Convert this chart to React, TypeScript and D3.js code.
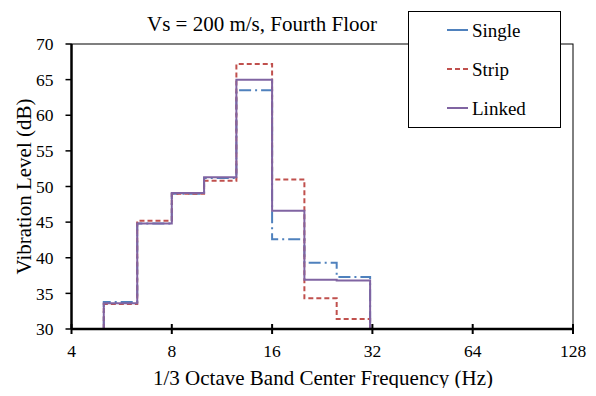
import React, { useEffect, useRef } from "react";
import * as d3 from "d3";

const bands = [5, 6.3, 8, 10, 12.5, 16, 20, 25, 31.5];
const single = [33.8, 44.8, 49.0, 51.2, 63.5, 42.6, 39.3, 37.3];
const strip = [33.5, 45.2, 49.0, 50.8, 67.2, 51.0, 34.3, 31.4];
const linked = [33.6, 44.8, 49.1, 51.3, 65.0, 46.6, 36.9, 36.8];
const xTicks = [4, 8, 16, 32, 64, 128];
const yTicks = [30, 35, 40, 45, 50, 55, 60, 65, 70];

const series = [
  { name: "Single", values: single, color: "#4F81BD", dash: "12,4,2,4" },
  { name: "Strip", values: strip, color: "#C0504D", dash: "5,3" },
  { name: "Linked", values: linked, color: "#8064A2", dash: "" },
];

const App = () => {
  const ref = useRef<SVGSVGElement>(null);

  useEffect(() => {
    const width = 596;
    const height = 396;
    const m = { left: 71.5, right: 23, top: 44, bottom: 67 };
    const font = "Liberation Serif";

    const svg = d3.select(ref.current);
    svg.selectAll("*").remove();

    const x = d3.scaleLog().base(2).domain([4, 128]).range([m.left, width - m.right]);
    const y = d3.scaleLinear().domain([30, 70]).range([height - m.bottom, m.top]);

    svg.append("rect").attr("width", width).attr("height", height).attr("fill", "white");

    // plot frame
    svg
      .append("rect")
      .attr("x", x(4))
      .attr("y", y(70))
      .attr("width", x(128) - x(4))
      .attr("height", y(30) - y(70))
      .attr("fill", "none")
      .attr("stroke", "black")
      .attr("stroke-width", 1);

    const line = d3
      .line<[number, number]>()
      .x((d) => x(d[0]))
      .y((d) => y(d[1]))
      .curve(d3.curveStepAfter);

    series.forEach((s) => {
      const pts: [number, number][] = [[bands[0], 30]];
      s.values.forEach((v, i) => pts.push([bands[i], v]));
      pts.push([bands[bands.length - 1], s.values[s.values.length - 1]]);
      // drop to bottom at last band
      const path = line(pts) + `V${y(30)}`;
      svg
        .append("path")
        .attr("d", path)
        .attr("fill", "none")
        .attr("stroke", s.color)
        .attr("stroke-width", 2)
        .attr("stroke-dasharray", s.dash || null);
    });

    // axes
    const xAxis = svg.append("g");
    xAxis
      .append("line")
      .attr("x1", x(4))
      .attr("x2", x(128))
      .attr("y1", y(30))
      .attr("y2", y(30))
      .attr("stroke", "black")
      .attr("stroke-width", 2.5);
    xTicks.forEach((t) => {
      xAxis
        .append("line")
        .attr("x1", x(t))
        .attr("x2", x(t))
        .attr("y1", y(30) - 5)
        .attr("y2", y(30) + 5)
        .attr("stroke", "black")
        .attr("stroke-width", 2);
      xAxis
        .append("text")
        .attr("x", x(t))
        .attr("y", 357)
        .attr("text-anchor", "middle")
        .attr("font-family", font)
        .attr("font-size", 17.5)
        .text(t);
    });

    const yAxis = svg.append("g");
    yAxis
      .append("line")
      .attr("x1", x(4))
      .attr("x2", x(4))
      .attr("y1", y(30))
      .attr("y2", y(70))
      .attr("stroke", "black")
      .attr("stroke-width", 2.5);
    yTicks.forEach((t) => {
      yAxis
        .append("line")
        .attr("x1", x(4) - 6)
        .attr("x2", x(4))
        .attr("y1", y(t))
        .attr("y2", y(t))
        .attr("stroke", "black")
        .attr("stroke-width", 1.5);
      yAxis
        .append("text")
        .attr("x", 53.5)
        .attr("y", y(t))
        .attr("dy", "0.35em")
        .attr("text-anchor", "end")
        .attr("font-family", font)
        .attr("font-size", 17.5)
        .text(t);
    });

    svg
      .append("text")
      .attr("x", 262)
      .attr("y", 31)
      .attr("text-anchor", "middle")
      .attr("font-family", font)
      .attr("font-size", 21)
      .text("Vs = 200 m/s, Fourth Floor");

    svg
      .append("text")
      .attr("x", 323)
      .attr("y", 385)
      .attr("text-anchor", "middle")
      .attr("font-family", font)
      .attr("font-size", 21)
      .text("1/3 Octave Band Center Frequency (Hz)");

    svg
      .append("text")
      .attr("transform", `translate(31,${(y(30) + y(70)) / 2}) rotate(-90)`)
      .attr("text-anchor", "middle")
      .attr("font-family", font)
      .attr("font-size", 21)
      .text("Vibration Level (dB)");

    // legend
    const lg = svg.append("g");
    lg.append("rect")
      .attr("x", 408.5)
      .attr("y", 11.5)
      .attr("width", 152)
      .attr("height", 116)
      .attr("fill", "white")
      .attr("stroke", "black")
      .attr("stroke-width", 1);
    series.forEach((s, i) => {
      const ly = 30 + i * 39;
      lg.append("line")
        .attr("x1", 447)
        .attr("x2", 468)
        .attr("y1", ly)
        .attr("y2", ly)
        .attr("stroke", s.color)
        .attr("stroke-width", 2)
        .attr("stroke-dasharray", s.name === "Strip" ? "5,3" : null);
      lg.append("text")
        .attr("x", 472)
        .attr("y", ly)
        .attr("dy", "0.35em")
        .attr("font-family", font)
        .attr("font-size", 19)
        .text(s.name);
    });
  }, []);

  return <svg ref={ref} width={596} height={396} style={{ display: "block", margin: "-8px" }} />;
};

export default App;
